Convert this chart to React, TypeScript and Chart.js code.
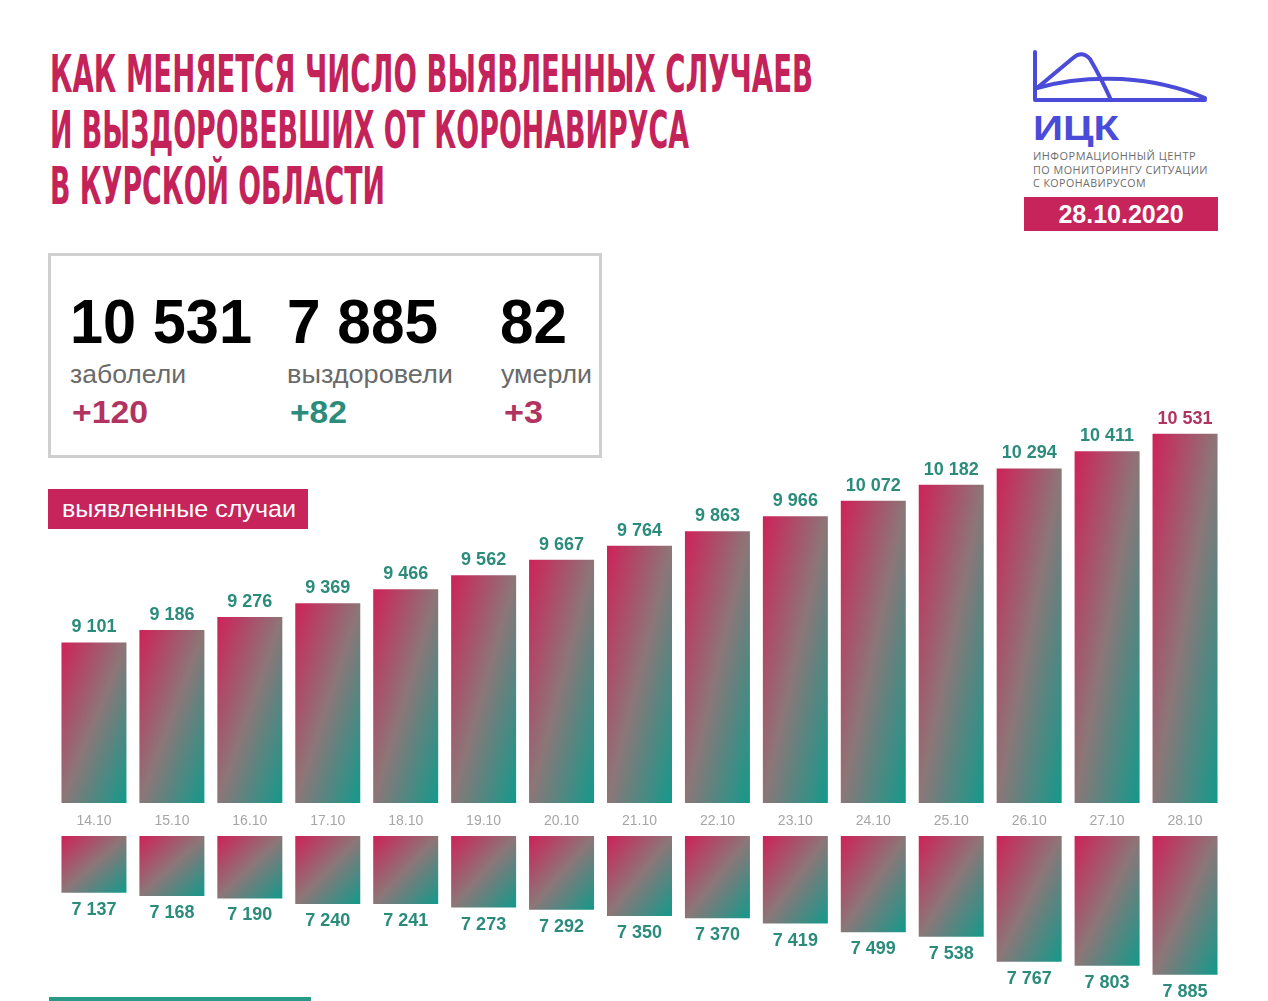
import React, { useEffect, useLayoutEffect, useRef } from 'react';
import { Chart, registerables } from 'chart.js';

Chart.register(...registerables);

// ---------- data ----------
const dates = ['14.10', '15.10', '16.10', '17.10', '18.10', '19.10', '20.10', '21.10', '22.10', '23.10', '24.10', '25.10', '26.10', '27.10', '28.10'];
const cases = [9101, 9186, 9276, 9369, 9466, 9562, 9667, 9764, 9863, 9966, 10072, 10182, 10294, 10411, 10531];
const recovered = [7137, 7168, 7190, 7240, 7241, 7273, 7292, 7350, 7370, 7419, 7499, 7538, 7767, 7803, 7885];

const casesAxis = [8000, 10900];
const recoveredAxis = [6620, 8125];

const totals = ['10 531', '7 885', '82'];
const totalLabels = ['заболели', 'выздоровели', 'умерли'];
const deltas = ['+120', '+82', '+3'];

// ---------- styles ----------
const PINK = '#c6245a';
const TEAL = '#2b8c7c';
const LABEL_PINK = '#b0345f';
const BAR_PCT = 0.834;
const SANS = '"Liberation Sans", Arial, Helvetica, sans-serif';

const fmt = (v: number) => String(v).replace(/\B(?=(\d{3})+(?!\d))/g, ' ');

function barGradient(c: any) {
  const chart = c.chart;
  const xs = chart.scales?.x;
  const ys = chart.scales?.y;
  if (c.type !== 'data' || !xs || !ys) return PINK;
  const i = c.dataIndex;
  const v = c.raw as number;
  const n = chart.data.labels.length;
  const xc = xs.getPixelForValue(i);
  const w = ((xs.right - xs.left) / n) * BAR_PCT;
  const pv = ys.getPixelForValue(v);
  const pb = ys.getPixelForValue(ys.min);
  const y0 = Math.min(pv, pb);
  const h = Math.abs(pv - pb);
  const x0 = xc - w / 2;
  if (!isFinite(x0) || !isFinite(y0) || h <= 0 || w <= 0) return PINK;
  const k = (2 * w * h) / (h * h + w * w);
  const g = chart.ctx.createLinearGradient(x0, y0, x0 + h * k, y0 + w * k);
  g.addColorStop(0, '#ce2259');
  g.addColorStop(0.5, '#8c7678');
  g.addColorStop(1, '#129a8b');
  return g;
}

const valueLabels = {
  id: 'valueLabels',
  afterDatasetsDraw(chart: any, _args: any, opts: any) {
    const { ctx } = chart;
    const meta = chart.getDatasetMeta(0);
    const data = chart.data.datasets[0].data as number[];
    ctx.save();
    ctx.font = 'bold 18px ' + SANS;
    ctx.textAlign = 'center';
    ctx.textBaseline = 'middle';
    meta.data.forEach((el: any, i: number) => {
      ctx.fillStyle = opts.colors ? opts.colors[i] : TEAL;
      ctx.fillText(fmt(data[i]), el.x, el.y + (opts.below ? 17 : -15));
    });
    ctx.restore();
  },
};

function Fit(props: { text: string; left: number; top: number; width: number; style: React.CSSProperties }) {
  const ref = useRef<HTMLSpanElement>(null);
  useLayoutEffect(() => {
    const el = ref.current;
    if (!el) return;
    const apply = () => {
      el.style.transform = 'none';
      const w = el.getBoundingClientRect().width;
      if (w > 0) el.style.transform = `scaleX(${props.width / w})`;
    };
    apply();
    (document as any).fonts?.ready?.then(apply);
  }, [props.text, props.width]);
  return (
    <span
      ref={ref}
      style={{
        position: 'absolute',
        left: props.left,
        top: props.top,
        whiteSpace: 'nowrap',
        display: 'inline-block',
        transformOrigin: '0 0',
        ...props.style,
      }}
    >
      {props.text}
    </span>
  );
}

export default function App() {
  const topRef = useRef<HTMLCanvasElement>(null);
  const botRef = useRef<HTMLCanvasElement>(null);

  useEffect(() => {
    const top = new Chart(topRef.current!, {
      type: 'bar',
      data: {
        labels: dates,
        datasets: [
          {
            data: cases,
            backgroundColor: barGradient,
            barPercentage: BAR_PCT,
            categoryPercentage: 1,
            borderWidth: 0,
          },
        ],
      },
      options: {
        responsive: false,
        animation: false,
        devicePixelRatio: 1,
        layout: { padding: { left: 55, right: 44, top: 0, bottom: 0 } },
        plugins: {
          legend: { display: false },
          tooltip: { enabled: false },
          valueLabels: { colors: cases.map((_, i) => (i === cases.length - 1 ? LABEL_PINK : TEAL)) },
        } as any,
        scales: {
          x: {
            grid: { display: false, drawTicks: false },
            border: { display: false },
            ticks: {
              color: '#a6a6a6',
              font: { family: SANS, size: 14 },
              padding: 10,
              autoSkip: false,
              maxRotation: 0,
            },
            afterFit: (s: any) => {
              s.height = 37;
            },
          },
          y: { display: false, min: casesAxis[0], max: casesAxis[1] },
        },
      },
      plugins: [valueLabels],
    });

    const bot = new Chart(botRef.current!, {
      type: 'bar',
      data: {
        labels: dates,
        datasets: [
          {
            data: recovered,
            backgroundColor: barGradient,
            barPercentage: BAR_PCT,
            categoryPercentage: 1,
            borderWidth: 0,
          },
        ],
      },
      options: {
        responsive: false,
        animation: false,
        devicePixelRatio: 1,
        layout: { padding: { left: 55, right: 44, top: 0, bottom: 0 } },
        plugins: {
          legend: { display: false },
          tooltip: { enabled: false },
          valueLabels: { below: true },
        } as any,
        scales: {
          x: { display: false },
          y: { display: false, reverse: true, min: recoveredAxis[0], max: recoveredAxis[1] },
        },
      },
      plugins: [valueLabels],
    });

    return () => {
      top.destroy();
      bot.destroy();
    };
  }, []);

  const titleStyle: React.CSSProperties = {
    fontFamily: '"DejaVu Sans Condensed", "Liberation Sans Narrow", Roboto, sans-serif',
    fontWeight: 700,
    fontSize: 52,
    lineHeight: '52px',
    color: '#c4235a',
  };
  const numStyle: React.CSSProperties = {
    fontFamily: SANS,
    fontWeight: 700,
    fontSize: 63,
    lineHeight: '63px',
    color: '#000',
  };
  const lblStyle: React.CSSProperties = {
    fontFamily: SANS,
    fontSize: 26,
    lineHeight: '26px',
    color: '#6a6a6a',
  };
  const deltaStyle = (c: string): React.CSSProperties => ({
    fontFamily: SANS,
    fontWeight: 700,
    fontSize: 31,
    lineHeight: '31px',
    color: c,
  });
  const smallStyle: React.CSSProperties = {
    fontFamily: '"Open Sans", "Noto Sans", sans-serif',
    fontSize: 11.5,
    lineHeight: '12px',
    letterSpacing: '0.5px',
    color: '#6d6d6d',
  };

  return (
    <div
      style={{
        position: 'absolute',
        left: 0,
        top: 0,
        width: 1268,
        height: 1001,
        overflow: 'hidden',
        background: '#fff',
      }}
    >
      {/* Title */}
      <Fit text="КАК МЕНЯЕТСЯ ЧИСЛО ВЫЯВЛЕННЫХ СЛУЧАЕВ" left={50} top={48} width={763} style={titleStyle} />
      <Fit text="И ВЫЗДОРОВЕВШИХ ОТ КОРОНАВИРУСА" left={50} top={104} width={639} style={titleStyle} />
      <Fit text="В КУРСКОЙ ОБЛАСТИ" left={50} top={160} width={335} style={titleStyle} />

      {/* Logo */}
      <svg
        style={{ position: 'absolute', left: 1020, top: 40 }}
        width={200}
        height={70}
        viewBox="1020 40 200 70"
      >
        <g fill="none" stroke="#4b4bd9" strokeWidth={4} strokeLinecap="round" strokeLinejoin="round">
          <path d="M1035 52 L1035 100 L1205 100" />
          <path d="M1037 88 L1073 58 Q1082 50 1090 59 Q1100 76 1111 100" />
          <path d="M1037 88 Q1075 77 1122 79 Q1168 82 1205 98" />
        </g>
      </svg>
      <Fit
        text="ИЦК"
        left={1033}
        top={110}
        width={86}
        style={{ fontFamily: SANS, fontWeight: 700, fontSize: 35, lineHeight: '35px', color: '#4b4bd9' }}
      />
      <Fit text="ИНФОРМАЦИОННЫЙ ЦЕНТР" left={1033} top={150} width={163} style={smallStyle} />
      <Fit text="ПО МОНИТОРИНГУ СИТУАЦИИ" left={1033} top={163.5} width={175} style={smallStyle} />
      <Fit text="С КОРОНАВИРУСОМ" left={1033} top={177} width={113} style={smallStyle} />
      <div
        style={{
          position: 'absolute',
          left: 1024,
          top: 197,
          width: 194,
          height: 34,
          background: PINK,
          color: '#fff',
          fontFamily: SANS,
          fontWeight: 700,
          fontSize: 25,
          lineHeight: '34px',
          textAlign: 'center',
        }}
      >
        28.10.2020
      </div>

      {/* Stats box */}
      <div
        style={{
          position: 'absolute',
          left: 48,
          top: 253,
          width: 548,
          height: 199,
          border: '3px solid #cfcfcf',
        }}
      />
      <Fit text={totals[0]} left={70} top={290} width={182} style={numStyle} />
      <Fit text={totals[1]} left={287} top={290} width={151} style={numStyle} />
      <Fit text={totals[2]} left={500} top={290} width={67} style={numStyle} />
      <Fit text={totalLabels[0]} left={70} top={361} width={116} style={lblStyle} />
      <Fit text={totalLabels[1]} left={287} top={361} width={166} style={lblStyle} />
      <Fit text={totalLabels[2]} left={501} top={361} width={91} style={lblStyle} />
      <Fit text={deltas[0]} left={72} top={397} width={76} style={deltaStyle(LABEL_PINK)} />
      <Fit text={deltas[1]} left={290} top={397} width={57} style={deltaStyle(TEAL)} />
      <Fit text={deltas[2]} left={504} top={397} width={39} style={deltaStyle(LABEL_PINK)} />

      {/* Section tag */}
      <div style={{ position: 'absolute', left: 48, top: 489, width: 260, height: 40, background: PINK }} />
      <Fit
        text="выявленные случаи"
        left={62}
        top={497}
        width={234}
        style={{ fontFamily: SANS, fontSize: 24, lineHeight: '24px', color: '#fff' }}
      />

      {/* Charts */}
      <canvas ref={topRef} width={1268} height={460} style={{ position: 'absolute', left: 0, top: 380 }} />
      <canvas ref={botRef} width={1268} height={165} style={{ position: 'absolute', left: 0, top: 836 }} />

      {/* Bottom accent line */}
      <div style={{ position: 'absolute', left: 49, top: 997, width: 262, height: 4, background: '#2a9a88' }} />
    </div>
  );
}
